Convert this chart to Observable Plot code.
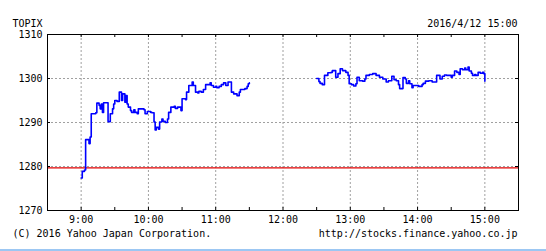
<!DOCTYPE html>
<html><head><meta charset="utf-8">
<script src="https://cdn.jsdelivr.net/npm/d3@7"></script>
<script src="https://cdn.jsdelivr.net/npm/@observablehq/plot@0.6"></script>
<style>
html,body{margin:0;padding:0;background:#fff;}
#chart svg{display:block;}
#bar{height:2px;background:#9cc7f3;width:546px;}
</style></head><body><div id="chart"></div><div id="bar"></div>
<script>
const title = "TOPIX";
const stamp = "2016/4/12 15:00";
const credit = "(C) 2016 Yahoo Japan Corporation.";
const source = "http://stocks.finance.yahoo.co.jp";

// minutes after 9:00
const hourTicks = [0, 60, 120, 180, 240, 300, 360];
const hourLabels = ["9:00", "10:00", "11:00", "12:00", "13:00", "14:00", "15:00"];
const halfHourTicks = [0, 30, 60, 90, 120, 150, 180, 210, 240, 270, 300, 330, 360];
const yTicks = [1270, 1280, 1290, 1300, 1310];
const yGrid = [1280, 1290, 1300];
const prevClose = 1279.7;

const morningMin = [0,1,3,4,7,8,9,13,14,16,17,18,19,20,24,26,28,29,30,32,34,36,37,39,40,41,42,44,45,47,48,50,51,56,57,59,62,63,65,66,67,69,70,72,73,75,77,78,80,83,84,86,89,90,93,94,96,99,100,102,104,105,107,109,111,115,116,118,120,121,123,125,127,129,131,134,136,139,141,142,146,148,149,150];
const morningVal = [1277.4,1278.9,1279.2,1286.1,1285.2,1286.7,1292.0,1292.2,1294.4,1293.9,1293.1,1294.2,1292.3,1294.5,1290.2,1292.0,1293.1,1294.2,1295.0,1294.8,1296.9,1295.0,1296.5,1294.6,1296.1,1294.2,1293.5,1292.7,1292.3,1292.9,1292.3,1292.0,1293.1,1292.9,1292.0,1292.5,1292.3,1292.2,1290.1,1288.3,1288.9,1288.5,1290.1,1290.8,1290.3,1290.0,1290.8,1292.3,1293.5,1293.7,1293.2,1293.5,1292.7,1295.4,1295.2,1296.9,1298.4,1299.2,1298.4,1296.9,1296.7,1297.1,1296.9,1297.5,1298.6,1299.0,1298.4,1298.0,1298.2,1297.9,1298.2,1298.6,1299.0,1298.4,1299.2,1296.9,1296.5,1296.1,1296.9,1297.5,1297.7,1298.2,1298.8,1299.0];

const afternoonMin = [210,212,213,215,217,220,223,224,227,229,231,233,236,238,239,241,243,245,246,248,251,253,254,257,260,263,266,269,272,274,277,279,281,283,284,287,289,290,292,293,295,296,299,301,304,305,307,310,313,317,320,322,324,326,330,331,333,335,337,338,340,342,343,345,346,348,349,351,352,354,356,358,359,360];
const afternoonVal = [1300.0,1299.3,1298.9,1298.6,1300.7,1301.3,1301.4,1301.8,1300.3,1301.1,1302.2,1301.8,1301.4,1300.7,1298.8,1298.6,1298.3,1298.8,1300.3,1299.5,1299.4,1299.9,1300.7,1300.9,1301.1,1300.7,1300.3,1299.9,1299.2,1299.5,1300.5,1299.7,1299.5,1298.6,1297.7,1300.2,1299.9,1298.9,1299.5,1298.8,1297.9,1298.4,1298.4,1298.2,1298.6,1298.9,1299.4,1299.5,1299.2,1300.7,1299.9,1300.5,1300.8,1300.7,1300.3,1300.7,1301.7,1301.4,1300.9,1302.2,1302.0,1302.4,1302.0,1302.6,1301.7,1301.2,1300.7,1300.9,1300.7,1301.4,1301.2,1301.4,1301.1,1299.4];

const data = [
  ...morningMin.map((m, i) => ({t: m, v: morningVal[i], s: "am"})),
  ...afternoonMin.map((m, i) => ({t: m, v: afternoonVal[i], s: "pm"}))
];

const W = 546, H = 249, mL = 47, mR = 28, mT = 34, mB = 39;
const fw = W - mL - mR, fh = H - mT - mB;
const tk = 3;

const chart = Plot.plot({
  width: W, height: H,
  marginLeft: mL, marginRight: mR, marginTop: mT, marginBottom: mB,
  style: {fontFamily: "'DejaVu Sans Mono', monospace", fontSize: "10px", color: "#000", background: "#fff"},
  x: {domain: [-30, 390], axis: null},
  y: {domain: [1270, 1310], axis: null},
  marks: [
    Plot.ruleX(hourTicks, {x: d => d, stroke: "#a0a0a0", strokeDasharray: "2,2"}),
    Plot.ruleY(yGrid, {y: d => d, stroke: "#a0a0a0", strokeDasharray: "2,2"}),
    Plot.ruleY([prevClose], {y: d => d, stroke: "#e00000", strokeWidth: 1.3}),
    Plot.line(data, {x: "t", y: "v", z: "s", curve: "step-after", stroke: "#0000ff", strokeWidth: 1.6}),
    Plot.frame({stroke: "#000"}),
    Plot.ruleX(halfHourTicks, {x: d => d, insetBottom: fh - tk, stroke: "#000"}),
    Plot.ruleX(halfHourTicks, {x: d => d, insetTop: fh - tk, stroke: "#000"}),
    Plot.ruleY(yTicks, {y: d => d, insetRight: fw - tk, stroke: "#000"}),
    Plot.ruleY(yTicks, {y: d => d, insetLeft: fw - tk, stroke: "#000"}),
    Plot.text(hourTicks, {x: d => d, text: (d, i) => hourLabels[i], frameAnchor: "bottom", dy: 12, lineAnchor: "bottom", fill: "#000"}),
    Plot.text(yTicks, {y: d => d, text: d => String(d), frameAnchor: "left", dx: -5, textAnchor: "end", lineAnchor: "middle", fill: "#000"}),
    Plot.text([title], {text: d => d, frameAnchor: "top-left", dx: -35, dy: -8, textAnchor: "start", lineAnchor: "bottom", fill: "#000"}),
    Plot.text([stamp], {text: d => d, frameAnchor: "top-right", dx: -1, dy: -8, textAnchor: "end", lineAnchor: "bottom", fill: "#000"}),
    Plot.text([credit], {text: d => d, frameAnchor: "bottom-left", dx: -35, dy: 26, textAnchor: "start", lineAnchor: "bottom", fill: "#000"}),
    Plot.text([source], {text: d => d, frameAnchor: "bottom-right", dx: -1, dy: 26, textAnchor: "end", lineAnchor: "bottom", fill: "#000"})
  ]
});
document.getElementById("chart").appendChild(chart);
</script></body></html>
